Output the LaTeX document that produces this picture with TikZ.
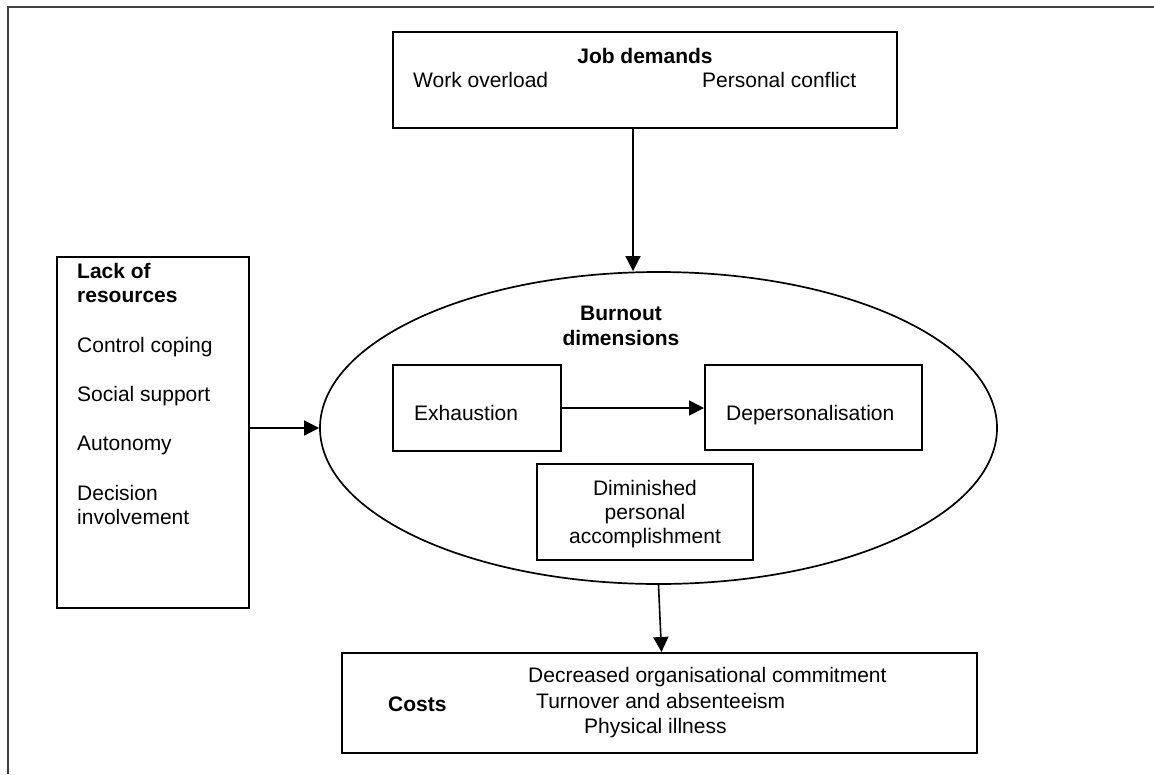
\documentclass[tikz,border=0pt]{standalone}
\usepackage{fontspec}
\setmainfont{Liberation Sans}
\usetikzlibrary{arrows.meta,shapes.geometric}
\begin{document}
\begin{tikzpicture}[x=1pt,y=-1pt,
  box/.style={draw=black,line width=2pt,rectangle,inner sep=0pt},
  oval/.style={draw=black,line width=1.7pt,ellipse,inner sep=0pt},
  lbl/.style={inner sep=0pt,font=\fontsize{21}{24}\selectfont},
  head/.style={inner sep=0pt,font=\fontsize{21}{24}\selectfont\bfseries},
  arr/.style={line width=1.6pt,-{Triangle[length=15pt,width=15pt]}},
  frame/.style={line width=2pt,draw=black!75},
]
\useasboundingbox (0,0) rectangle (1154,774);

% page frame (open at the bottom and right)
\coordinate (fbl) at (8,774);
\coordinate (ftl) at (8,7);
\coordinate (ftr) at (1154,7);
\draw[frame] (fbl) -- (ftl) -- (ftr);

% boxes and the burnout ellipse
\node[box,minimum width=504pt,minimum height=96pt] (jd) at (645,80) {};
\node[box,minimum width=192pt,minimum height=351pt] (res) at (153,432.5) {};
\node[oval,minimum width=677pt,minimum height=312pt] (burn) at (658.5,428) {};
\node[box,minimum width=168pt,minimum height=86pt] (exh) at (477,408) {};
\node[box,minimum width=217pt,minimum height=85pt] (dep) at (813.5,407.5) {};
\node[box,minimum width=216pt,minimum height=96pt] (dim) at (645,512) {};
\node[box,minimum width=635pt,minimum height=100pt] (cost) at (659.5,703) {};

% job demands
\node[head,anchor=base] (jdt) at (645,63) {Job demands};
\node[lbl,anchor=base west] (wo) at (413,87) {Work overload};
\node[lbl,anchor=base west] (pc) at (702,87) {Personal conflict};

% lack of resources
\node[head,anchor=base west] (lr1) at (77,278.7) {Lack of};
\node[head,anchor=base west] (lr2) at (77,302.7) {resources};
\node[lbl,anchor=base west] (cc) at (77,352.7) {Control coping};
\node[lbl,anchor=base west] (ss) at (77,401.7) {Social support};
\node[lbl,anchor=base west] (au) at (77,450.5) {Autonomy};
\node[lbl,anchor=base west] (di1) at (77,500) {Decision};
\node[lbl,anchor=base west] (di2) at (77,524) {involvement};

% burnout dimensions
\node[head,anchor=base] (bt1) at (621,320.7) {Burnout};
\node[head,anchor=base] (bt2) at (621,345) {dimensions};
\node[lbl,anchor=base west] (ext) at (414,420) {Exhaustion};
\node[lbl,anchor=base west] (dpt) at (726,420.7) {Depersonalisation};
\node[lbl,anchor=base] (dm1) at (645,495) {Diminished};
\node[lbl,anchor=base] (dm2) at (645,519.3) {personal};
\node[lbl,anchor=base] (dm3) at (645,543.3) {accomplishment};

% costs
\node[head,anchor=base west] (ct) at (388,711.7) {Costs};
\node[lbl,anchor=base west] (c1) at (528,682.7) {Decreased organisational commitment};
\node[lbl,anchor=base west] (c2) at (536,708) {Turnover and absenteeism};
\node[lbl,anchor=base west] (c3) at (584,733) {Physical illness};

% connectors
\draw[arr] ([xshift=-12pt]jd.south) -- ([xshift=-25.5pt]burn.north);
\draw[arr] (res.east |- burn.west) -- (burn.west);
\draw[arr] (exh.east) -- (exh.east -| dep.west);
\draw[arr] (burn.south) -- ([xshift=2pt]cost.north);
\end{tikzpicture}
\end{document}
